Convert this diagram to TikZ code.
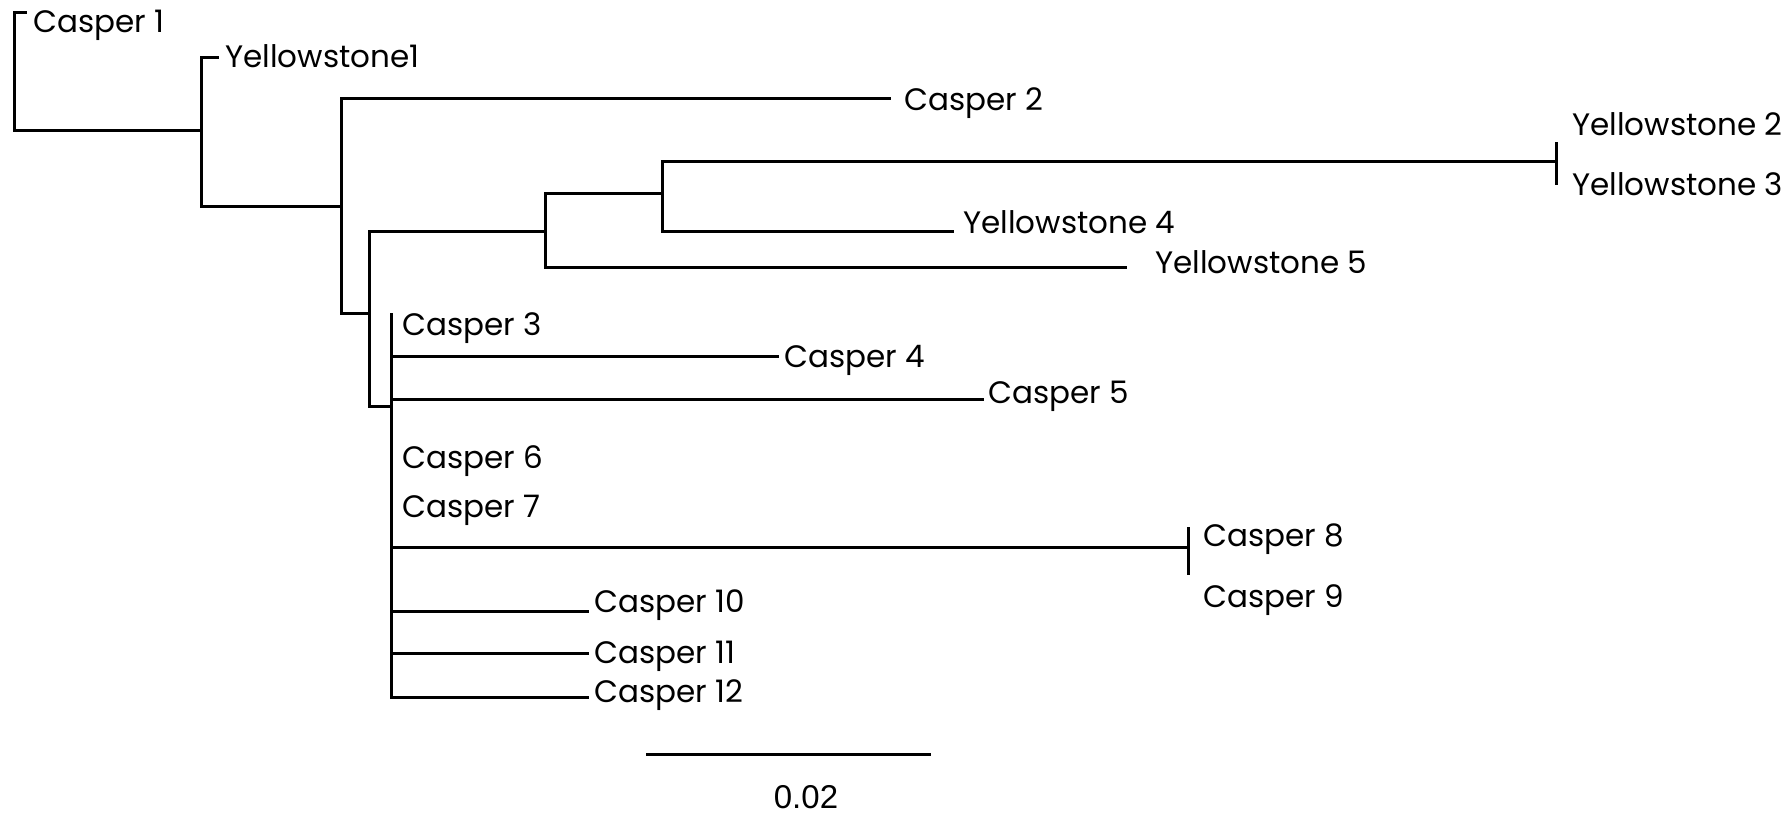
\documentclass[tikz,border=0pt]{standalone}
\usepackage{fontspec}
\setmainfont{Poppins}
\newfontfamily\barfont{Liberation Sans}
\begin{document}
\begin{tikzpicture}[x=1pt,y=-1pt,
  branch/.style={line width=3pt,line join=miter,line cap=rect},
  taxon/.style={anchor=base west,inner sep=0pt,font=\fontsize{31}{37}\selectfont},
  barlabel/.style={anchor=base,inner sep=0pt,font=\barfont\fontsize{33}{40}\selectfont}]
\useasboundingbox (0,0) rectangle (1791,815);

% internal nodes (where the parent branch attaches)
\coordinate (n1) at (14,130);
\coordinate (n2) at (201,130);
\coordinate (n3) at (341,206);
\coordinate (n4) at (369,313);
\coordinate (n5) at (545,231);
\coordinate (n6) at (662,193);
\coordinate (n7) at (391,406);

% branch tips
\coordinate (c1) at (25,12);
\coordinate (y1) at (217,57);
\coordinate (c2) at (889,98);
\coordinate (y23) at (1556,161);
\coordinate (y4) at (952,231);
\coordinate (y5) at (1125,267);
\coordinate (c3) at (391,314);
\coordinate (c4) at (777,356);
\coordinate (c5) at (982,399);
\coordinate (c89) at (1188,547);
\coordinate (c10) at (587,611);
\coordinate (c11) at (587,653);
\coordinate (c12) at (587,697);

% tree
\draw[branch] (c1) -- (n1 |- c1) -- (n1) -- (n2);
\draw[branch] (y1) -- (n2 |- y1) -- (n2 |- n3) -- (n3);
\draw[branch] (c2) -- (n3 |- c2) -- (n3 |- n4) -- (n4);
\draw[branch] (n5) -- (n4 |- n5) -- (n4 |- n7) -- (n7);
\draw[branch] (n6) -- (n5 |- n6) -- (n5 |- y5) -- (y5);
\draw[branch] (y23) -- (n6 |- y23) -- (n6 |- y4) -- (y4);
\draw[branch] (c3) -- (n7 |- c12) -- (c12);
\draw[branch] (n7 |- c4) -- (c4);
\draw[branch] (n7 |- c5) -- (c5);
\draw[branch] (n7 |- c89) -- (c89);
\draw[branch] (n7 |- c10) -- (c10);
\draw[branch] (n7 |- c11) -- (c11);
\draw[branch] ([yshift=18pt]y23) -- ([yshift=-22pt]y23);
\draw[branch] ([yshift=19pt]c89) -- ([yshift=-26pt]c89);

% taxa
\node[taxon] (l-c1) at (33,32) {Casper 1};
\node[taxon] (l-y1) at (225,67) {Yellowstone1};
\node[taxon] (l-c2) at (904,110) {Casper 2};
\node[taxon] (l-y2) at (1572,135) {Yellowstone 2};
\node[taxon] (l-y3) at (1572,195) {Yellowstone 3};
\node[taxon] (l-y4) at (963,233) {Yellowstone 4};
\node[taxon] (l-y5) at (1155,273) {Yellowstone 5};
\node[taxon] (l-c3) at (402,335) {Casper 3};
\node[taxon] (l-c4) at (784,367) {Casper 4};
\node[taxon] (l-c5) at (988,403) {Casper 5};
\node[taxon] (l-c6) at (402,468) {Casper 6};
\node[taxon] (l-c7) at (402,517) {Casper 7};
\node[taxon] (l-c8) at (1203,546) {Casper 8};
\node[taxon] (l-c9) at (1203,607) {Casper 9};
\node[taxon] (l-c10) at (594,612) {Casper 10};
\node[taxon] (l-c11) at (594,663) {Casper 11};
\node[taxon] (l-c12) at (594,702) {Casper 12};

% scale bar
\coordinate (sb0) at (646,754);
\coordinate (sb1) at (931,754);
\draw[branch,line cap=butt] (sb0) -- (sb1);
\node[barlabel] (sbl) at (806,808) {0.02};
\end{tikzpicture}
\end{document}
